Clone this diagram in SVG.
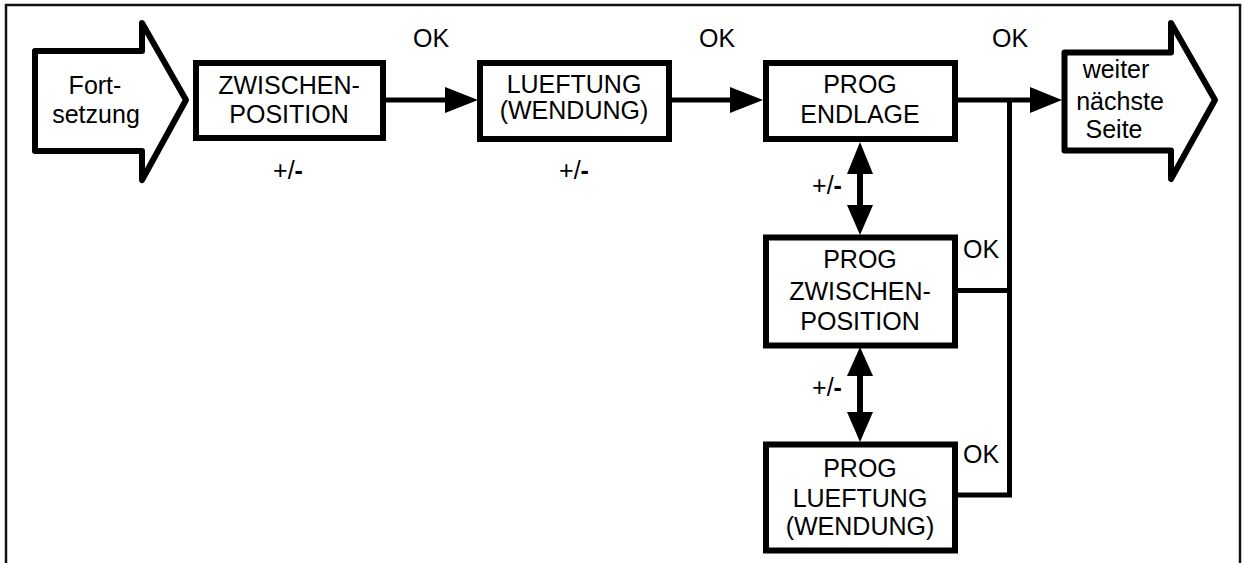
<svg xmlns="http://www.w3.org/2000/svg" width="1244" height="563" viewBox="0 0 1244 563">
<style>
.box{fill:#fff;stroke:#000;stroke-width:6}
.big{fill:#fff;stroke:#000;stroke-width:6;stroke-linejoin:round}
.ln{fill:none;stroke:#000;stroke-width:5}
.sh{fill:none;stroke:#000;stroke-width:6}
.hd{fill:#000}
text{font-family:"Liberation Sans",Arial,Helvetica,sans-serif;font-size:25px;fill:#000}
.c{text-anchor:middle}
.b{font-weight:bold}
</style>
<rect x="0" y="0" width="1244" height="563" fill="#fff"/>
<path d="M6,563 V5 H1240 V563" fill="none" stroke="#111" stroke-width="2.5"/>
<g id="connectors">
<line class="ln" x1="383" y1="100" x2="447" y2="100"/>
<polygon class="hd" points="445,87 478,100 445,113"/>
<line class="ln" x1="669" y1="100" x2="732" y2="100"/>
<polygon class="hd" points="730,87 763,100 730,113"/>
<line class="ln" x1="955" y1="100" x2="1032" y2="100"/>
<polygon class="hd" points="1030,87 1062,100 1030,113"/>
<polyline class="ln" points="1009.5,98 1009.5,495 955,495"/>
<line class="ln" x1="955" y1="290.5" x2="1012" y2="290.5"/>
<line class="sh" x1="860" y1="170" x2="860" y2="210"/>
<polygon class="hd" points="860,142 873,174 847,174"/>
<polygon class="hd" points="847,205 873,205 860,235"/>
<line class="sh" x1="860" y1="372" x2="860" y2="416"/>
<polygon class="hd" points="860,347 873,376 847,376"/>
<polygon class="hd" points="847,412 873,412 860,442"/>
<text x="431" y="47" class="c">OK</text>
<text x="717" y="47" class="c">OK</text>
<text x="1010" y="47" class="c">OK</text>
<text x="963" y="258">OK</text>
<text x="963" y="463">OK</text>
<text x="288" y="179" class="c">+/<tspan class="b">-</tspan></text>
<text x="574" y="179" class="c">+/<tspan class="b">-</tspan></text>
<text x="827" y="194" class="c">+/<tspan class="b">-</tspan></text>
<text x="827" y="396" class="c">+/<tspan class="b">-</tspan></text>
</g>
<g id="start">
<polygon class="big" points="35,51 142,51 142,23 186,100 142,180 142,151 35,151"/>
<text x="95" y="94" class="c">Fort-</text>
<text x="96" y="123" class="c">setzung</text>
</g>
<g id="zwischenposition">
<rect class="box" x="196" y="63" width="187" height="75"/>
<text x="289" y="94" class="c">ZWISCHEN-</text>
<text x="289" y="123" class="c">POSITION</text>
</g>
<g id="lueftung">
<rect class="box" x="480" y="63" width="189" height="76"/>
<text x="574" y="93" class="c">LUEFTUNG</text>
<text x="574" y="119" class="c">(WENDUNG)</text>
</g>
<g id="prog-endlage">
<rect class="box" x="766" y="63" width="189" height="76"/>
<text x="860" y="93" class="c">PROG</text>
<text x="860" y="123" class="c">ENDLAGE</text>
</g>
<g id="weiter">
<polygon class="big" points="1064.5,52.5 1171,52.5 1171,23 1215,100 1171,179 1171,150.5 1064.5,150.5"/>
<text x="1116" y="78" class="c">weiter</text>
<text x="1120" y="110" class="c">nächste</text>
<text x="1114" y="138" class="c">Seite</text>
</g>
<g id="prog-zwischenposition">
<rect class="box" x="766" y="237.5" width="189" height="108"/>
<text x="860" y="268" class="c">PROG</text>
<text x="860" y="300" class="c">ZWISCHEN-</text>
<text x="860" y="330" class="c">POSITION</text>
</g>
<g id="prog-lueftung">
<rect class="box" x="766" y="444.5" width="189" height="106"/>
<text x="860" y="477" class="c">PROG</text>
<text x="860" y="507" class="c">LUEFTUNG</text>
<text x="860" y="535" class="c">(WENDUNG)</text>
</g>
</svg>
